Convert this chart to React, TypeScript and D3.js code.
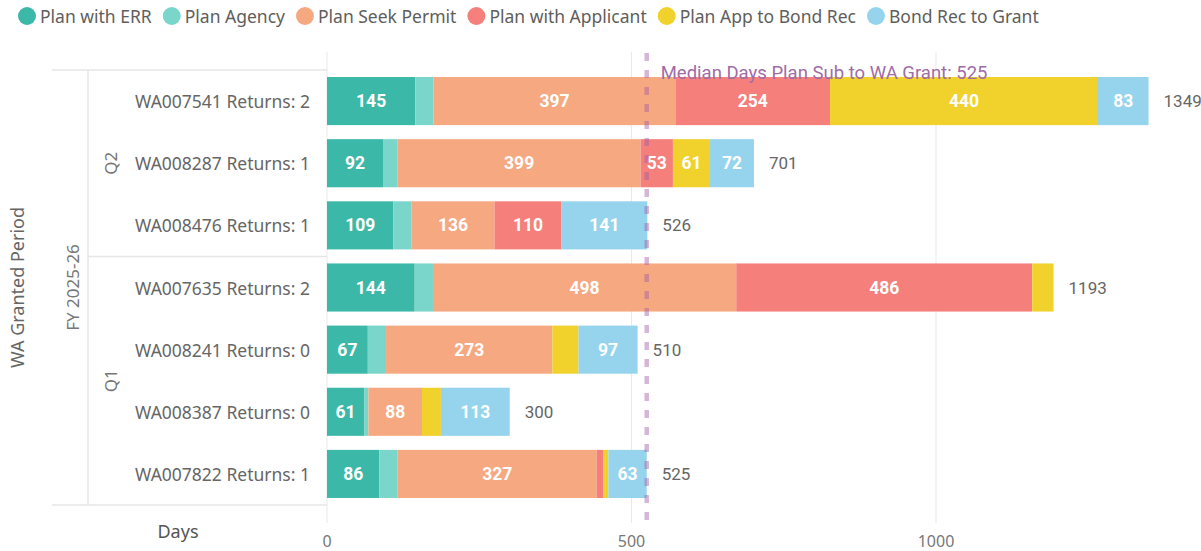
import React, { useMemo } from "react";
import * as d3 from "d3";

const categories = [
  "WA007541 Returns: 2",
  "WA008287 Returns: 1",
  "WA008476 Returns: 1",
  "WA007635 Returns: 2",
  "WA008241 Returns: 0",
  "WA008387 Returns: 0",
  "WA007822 Returns: 1",
];
const quarters = ["Q2", "Q2", "Q2", "Q1", "Q1", "Q1", "Q1"];
const fiscalYear = "FY 2025-26";

const seriesNames = [
  "Plan with ERR",
  "Plan Agency",
  "Plan Seek Permit",
  "Plan with Applicant",
  "Plan App to Bond Rec",
  "Bond Rec to Grant",
];
const seriesColors = ["#3cb8a8", "#7ad6cb", "#f6a880", "#f47f7b", "#f1d12b", "#95d4ec"];

const planWithERR = [145, 92, 109, 144, 67, 61, 86];
const planAgency = [30, 24, 30, 30, 30, 7, 30];
const planSeekPermit = [397, 399, 136, 498, 273, 88, 327];
const planWithApplicant = [254, 53, 110, 486, 0, 0, 11];
const planAppToBondRec = [440, 61, 0, 35, 43, 31, 8];
const bondRecToGrant = [83, 72, 141, 0, 97, 113, 63];

const xTicks = [0, 500, 1000];
const medianValue = 525;
const medianLabel = "Median Days Plan Sub to WA Grant: 525";
const xAxisTitle = "Days";
const yAxisTitle = "WA Granted Period";

const W = 1201;
const H = 551;
const UI_FONT = "'Segoe UI', 'Noto Sans', 'Open Sans', sans-serif";
const DIN_FONT = "DIN, Roboto, 'DejaVu Sans', sans-serif";
const LEGEND_SIZE = 17.5;

function measure(text: string, font: string) {
  const c = document.createElement("canvas");
  const ctx = c.getContext("2d")!;
  ctx.font = font;
  return ctx.measureText(text).width;
}

export default function App() {
  const seriesValues = [
    planWithERR,
    planAgency,
    planSeekPermit,
    planWithApplicant,
    planAppToBondRec,
    bondRecToGrant,
  ];

  const rows = categories.map((c, i) => {
    const r: any = { cat: c };
    seriesNames.forEach((s, j) => (r[s] = seriesValues[j][i]));
    return r;
  });
  const stacked = d3.stack<any>().keys(seriesNames)(rows);
  const totals = categories.map((_, i) => d3.sum(seriesValues, (v) => v[i]));

  const x = d3.scaleLinear().domain([0, 1400]).range([327, 327 + 1400 * 0.609]);
  const y = d3
    .scaleBand<string>()
    .domain(categories)
    .range([70, 505])
    .paddingInner(0.226)
    .paddingOuter(0.113);

  const plotTop = 70;
  const plotBottom = 505;
  const step = y.step();

  const groups: { q: string; start: number; end: number }[] = [];
  quarters.forEach((q, i) => {
    const g = groups[groups.length - 1];
    if (g && g.q === q) g.end = i;
    else groups.push({ q, start: i, end: i });
  });
  const groupY0 = (g: any) => plotTop + g.start * step;
  const groupY1 = (g: any) => plotTop + (g.end + 1) * step;

  const legendFont = `${LEGEND_SIZE}px 'Noto Sans'`;
  const legendItems = useMemo(() => {
    let cursor = 27;
    return seriesNames.map((name, i) => {
      const w = measure(name, legendFont);
      const item = { name, color: seriesColors[i], cx: cursor, tx: cursor + 13 };
      cursor = cursor + 13 + w + 20;
      return item;
    });
  }, []);

  const gridColor = "#e9e9e9";
  const hierColor = "#e6e6e6";

  return (
    <svg
      width={W}
      height={H}
      style={{ position: "fixed", left: 0, top: 0, background: "#fff" }}
    >
      <g>
        {legendItems.map((it) => (
          <g key={it.name}>
            <circle cx={it.cx} cy={16} r={9} fill={it.color} />
            <text
              x={it.tx}
              y={16}
              dominantBaseline="central"
              fontFamily={UI_FONT}
              fontSize={LEGEND_SIZE}
              fill="#605e5c"
            >
              {it.name}
            </text>
          </g>
        ))}
      </g>

      {xTicks.map((t) => (
        <line key={t} x1={x(t)} x2={x(t)} y1={52} y2={523} stroke={gridColor} strokeWidth={1} />
      ))}

      <line x1={52} x2={x(0)} y1={plotTop} y2={plotTop} stroke={hierColor} strokeWidth={1.5} />
      <line x1={52} x2={x(0)} y1={plotBottom} y2={plotBottom} stroke={hierColor} strokeWidth={1.5} />
      <line x1={88} x2={88} y1={plotTop} y2={plotBottom} stroke={hierColor} strokeWidth={1.5} />
      {groups.slice(1).map((g) => (
        <line key={g.q} x1={88} x2={x(0)} y1={groupY0(g)} y2={groupY0(g)} stroke={hierColor} strokeWidth={1.5} />
      ))}

      {stacked.map((layer, j) => (
        <g key={layer.key} fill={seriesColors[j]}>
          {layer.map((d, i) => {
            const w = x(d[1]) - x(d[0]);
            if (w <= 0) return null;
            return (
              <rect
                key={i}
                x={x(d[0])}
                y={y(categories[i])}
                width={w}
                height={y.bandwidth()}
              />
            );
          })}
        </g>
      ))}

      {stacked.map((layer, j) => (
        <g key={"l" + layer.key}>
          {layer.map((d, i) => {
            const w = x(d[1]) - x(d[0]);
            if (w < 30) return null;
            return (
              <text
                key={i}
                x={(x(d[0]) + x(d[1])) / 2}
                y={(y(categories[i]) as number) + y.bandwidth() / 2}
                textAnchor="middle"
                dominantBaseline="central"
                fontFamily={DIN_FONT}
                fontWeight={700}
                fontSize={17.5}
                fill="#ffffff"
              >
                {d[1] - d[0]}
              </text>
            );
          })}
        </g>
      ))}

      {categories.map((c, i) => (
        <text
          key={c}
          x={x(totals[i]) + 15}
          y={(y(c) as number) + y.bandwidth() / 2}
          dominantBaseline="central"
          fontFamily={DIN_FONT}
          fontSize={17}
          fill="#666666"
        >
          {totals[i]}
        </text>
      ))}

      <line
        x1={x(medianValue)}
        x2={x(medianValue)}
        y1={53}
        y2={523}
        stroke="#a25ea6"
        strokeOpacity={0.45}
        strokeWidth={4.5}
        strokeDasharray="8 9"
      />
      <text
        x={x(medianValue) + 14}
        y={79}
        fontFamily={DIN_FONT}
        fontSize={18.5}
        fill="#a06ca6"
      >
        {medianLabel}
      </text>

      {categories.map((c) => (
        <text
          key={c}
          x={310}
          y={(y(c) as number) + y.bandwidth() / 2}
          textAnchor="end"
          dominantBaseline="central"
          fontFamily={UI_FONT}
          fontSize={17.5}
          fill="#666666"
        >
          {c}
        </text>
      ))}

      {groups.map((g) => {
        const cy = (groupY0(g) + groupY1(g)) / 2;
        return (
          <text
            key={g.q}
            transform={`translate(110,${cy}) rotate(-90)`}
            textAnchor="middle"
            dominantBaseline="central"
            fontFamily={UI_FONT}
            fontSize={17}
            fill="#777777"
          >
            {g.q}
          </text>
        );
      })}

      <text
        transform={`translate(72,${(plotTop + plotBottom) / 2}) rotate(-90)`}
        textAnchor="middle"
        dominantBaseline="central"
        fontFamily={UI_FONT}
        fontSize={17}
        fill="#777777"
      >
        {fiscalYear}
      </text>

      <text
        transform={`translate(17,${(plotTop + plotBottom) / 2}) rotate(-90)`}
        textAnchor="middle"
        dominantBaseline="central"
        fontFamily={UI_FONT}
        fontSize={18}
        fill="#666666"
      >
        {yAxisTitle}
      </text>

      {xTicks.map((t) => (
        <text
          key={"t" + t}
          x={x(t)}
          y={541}
          textAnchor="middle"
          dominantBaseline="central"
          fontFamily={UI_FONT}
          fontSize={16}
          fill="#777777"
        >
          {t}
        </text>
      ))}

      <text
        x={178}
        y={531}
        textAnchor="middle"
        dominantBaseline="central"
        fontFamily={UI_FONT}
        fontSize={18}
        fill="#555555"
      >
        {xAxisTitle}
      </text>
    </svg>
  );
}
